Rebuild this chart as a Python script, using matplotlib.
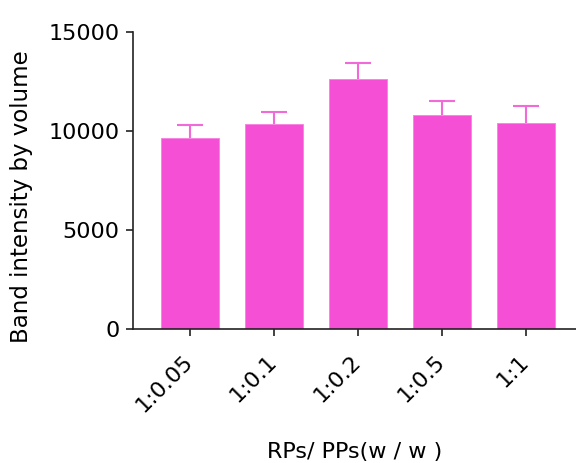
import matplotlib
matplotlib.use('Agg')
import matplotlib.pyplot as plt
import matplotlib.transforms as mtransforms
import numpy as np

# Data
ratios = ['1:0.05', '1:0.1', '1:0.2', '1:0.5', '1:1']
intensity = [9650, 10340, 12610, 10780, 10410]
sem = [640, 600, 810, 720, 840]

bar_color = '#F54FD5'
err_color = '#F26ADA'

# wide font to mimic the loose letter spacing of the original export
plt.rcParams['font.family'] = ['DejaVu Sans']

fig = plt.figure(figsize=(5.76, 4.63), dpi=100)
ax = fig.add_axes([0.2315, 0.2894, 0.7685, 0.6421])

x = np.arange(len(ratios))
ax.bar(x, intensity, width=0.69, color=bar_color, edgecolor='#F77FE0', linewidth=0.6, zorder=2)
# upward error bars only
eb = ax.errorbar(x, intensity, yerr=[np.zeros(len(sem)), sem], fmt='none',
                 ecolor=err_color, elinewidth=1.5, capsize=9.5, capthick=1.5, zorder=1)
eb[1][0].set_visible(False)  # drop the lower cap sitting on the bar top

ax.set_xlim(-0.675, 4.595)
ax.set_ylim(0, 15000)
ax.set_yticks([0, 5000, 10000, 15000])
ax.set_xticks(x)
ax.set_xticklabels(ratios, rotation=45, ha='right', va='center', rotation_mode='anchor')
shift = mtransforms.ScaledTranslation(5 / 100, 0, fig.dpi_scale_trans)
for lbl in ax.get_xticklabels():
    lbl.set_transform(lbl.get_transform() + shift)

for s in ['top', 'right']:
    ax.spines[s].set_visible(False)
for s in ['left', 'bottom']:
    ax.spines[s].set_linewidth(1.2)
    ax.spines[s].set_color('#222222')

ax.tick_params(axis='y', length=5, width=1.2, color='#222222', labelsize=16, pad=5)
ax.tick_params(axis='x', length=5, width=1.2, color='#222222', labelsize=16, pad=16)

ax.set_ylabel('Band intensity by volume', fontsize=16.5)
ax.yaxis.set_label_coords(-0.2266, 0.445)
ax.set_xlabel('RPs/ PPs(w / w )', fontsize=16)
ax.xaxis.set_label_coords(0.5, -0.38)

fig.savefig('out.png', dpi=100)
